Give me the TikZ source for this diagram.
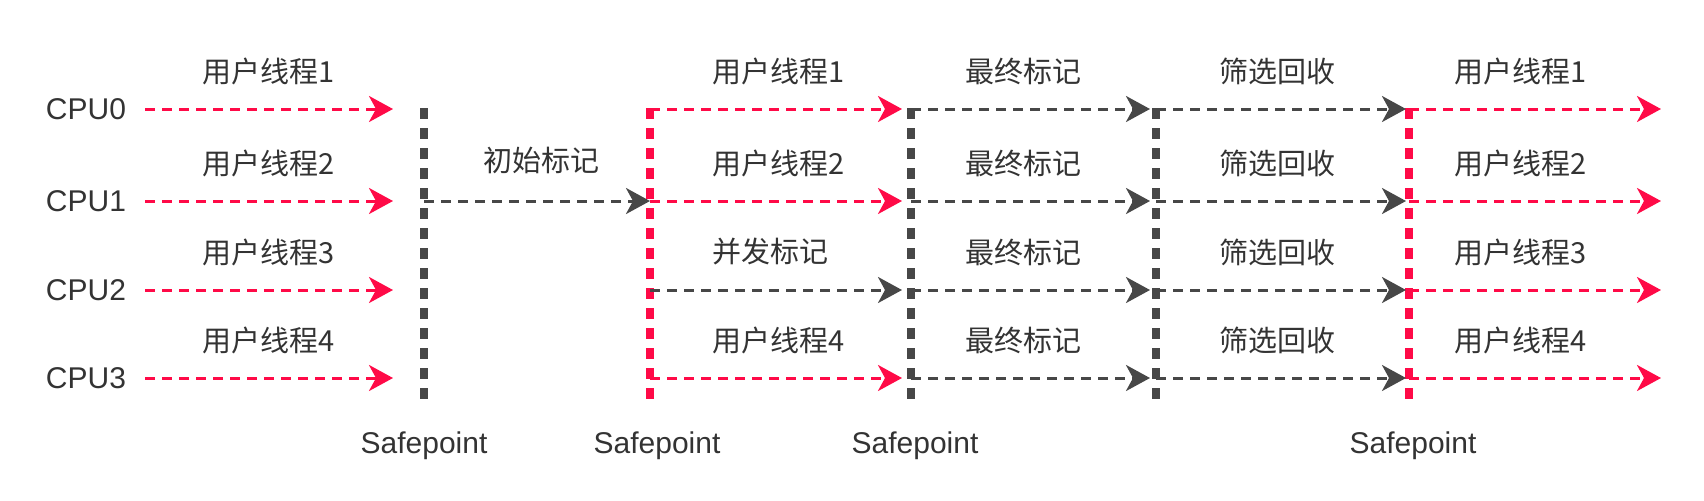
\documentclass[tikz,border=0pt]{standalone}
\usepackage{fontspec}
\setmainfont{Liberation Sans}
\newfontfamily\cjk{Noto Sans CJK SC}
\usetikzlibrary{arrows.meta}
\definecolor{gcred}{HTML}{FF0A47}
\definecolor{gcgray}{HTML}{474747}
\definecolor{gctext}{HTML}{333333}

\begin{document}
\begin{tikzpicture}[x=0.5pt,y=-0.5pt,
    thread/.style={draw=gcred, line width=1.5pt, dash pattern=on 5pt off 3.5pt,
                   -{Stealth[length=12pt,width=13pt,inset=3.5pt]}},
    gcwork/.style={thread, draw=gcgray},
    safe/.style={line width=4pt, dash pattern=on 5.5pt off 4.5pt},
    cpu/.style={text=gctext, font=\fontsize{15}{18}\selectfont},
    lbl/.style={text=gctext, font=\cjk\fontsize{14.5}{17}\selectfont}]
    \useasboundingbox (0,0) rectangle (1704,500);

    % safepoints
    \coordinate (p1t) at (424,108);  \coordinate (p1b) at (424,405);
    \coordinate (p2t) at (650,108);  \coordinate (p2b) at (650,405);
    \coordinate (p3t) at (911,108);  \coordinate (p3b) at (911,405);
    \coordinate (p4t) at (1156,108); \coordinate (p4b) at (1156,405);
    \coordinate (p5t) at (1409,108); \coordinate (p5b) at (1409,405);
    \draw[safe, gcgray] (p1t) -- (p1b);
    \draw[safe, gcred]  (p2t) -- (p2b);
    \draw[safe, gcgray] (p3t) -- (p3b);
    \draw[safe, gcgray] (p4t) -- (p4b);
    \draw[safe, gcred]  (p5t) -- (p5b);
    \node[cpu] (sp1) at (424,446) {Safepoint};
    \node[cpu] (sp2) at (657,446) {Safepoint};
    \node[cpu] (sp3) at (915,446) {Safepoint};
    \node[cpu] (sp5) at (1413,446) {Safepoint};

    \foreach \n/\y in {0/109,1/201,2/290,3/378} {
        \pgfmathtruncatemacro\k{\n+1}
        \node[cpu] (cpu\n) at (86,\y) {CPU\n};
        \coordinate (a\n) at (145,\y);  \coordinate (b\n) at (393,\y);
        \coordinate (k\n) at (424,\y);
        \coordinate (c\n) at (650,\y);  \coordinate (d\n) at (902,\y);
        \coordinate (e\n) at (911,\y);  \coordinate (f\n) at (1150,\y);
        \coordinate (g\n) at (1156,\y); \coordinate (h\n) at (1406,\y);
        \coordinate (i\n) at (1409,\y); \coordinate (j\n) at (1661,\y);
        \draw[thread] (a\n) -- (b\n);
        \draw[gcwork] (e\n) -- (f\n);
        \draw[gcwork] (g\n) -- (h\n);
        \draw[thread] (i\n) -- (j\n);
        \node[lbl] (u\n) at (269,\y-38) {用户线程\k};
        \node[lbl] (fin\n) at (1023,\y-38) {最终标记};
        \node[lbl] (sel\n) at (1277,\y-38) {筛选回收};
        \node[lbl] (v\n) at (1521,\y-38) {用户线程\k};
    }

    \draw[gcwork] (k1) -- (c1);
    \node[lbl] (init) at (541,160) {初始标记};

    \foreach \n in {0,1,3} \draw[thread] (c\n) -- (d\n);
    \draw[gcwork] (c2) -- (d2);
    \node[lbl] (w0) at (779,71) {用户线程1};
    \node[lbl] (w1) at (779,163) {用户线程2};
    \node[lbl] (conc) at (770,252) {并发标记};
    \node[lbl] (w3) at (779,340) {用户线程4};
\end{tikzpicture}
\end{document}
